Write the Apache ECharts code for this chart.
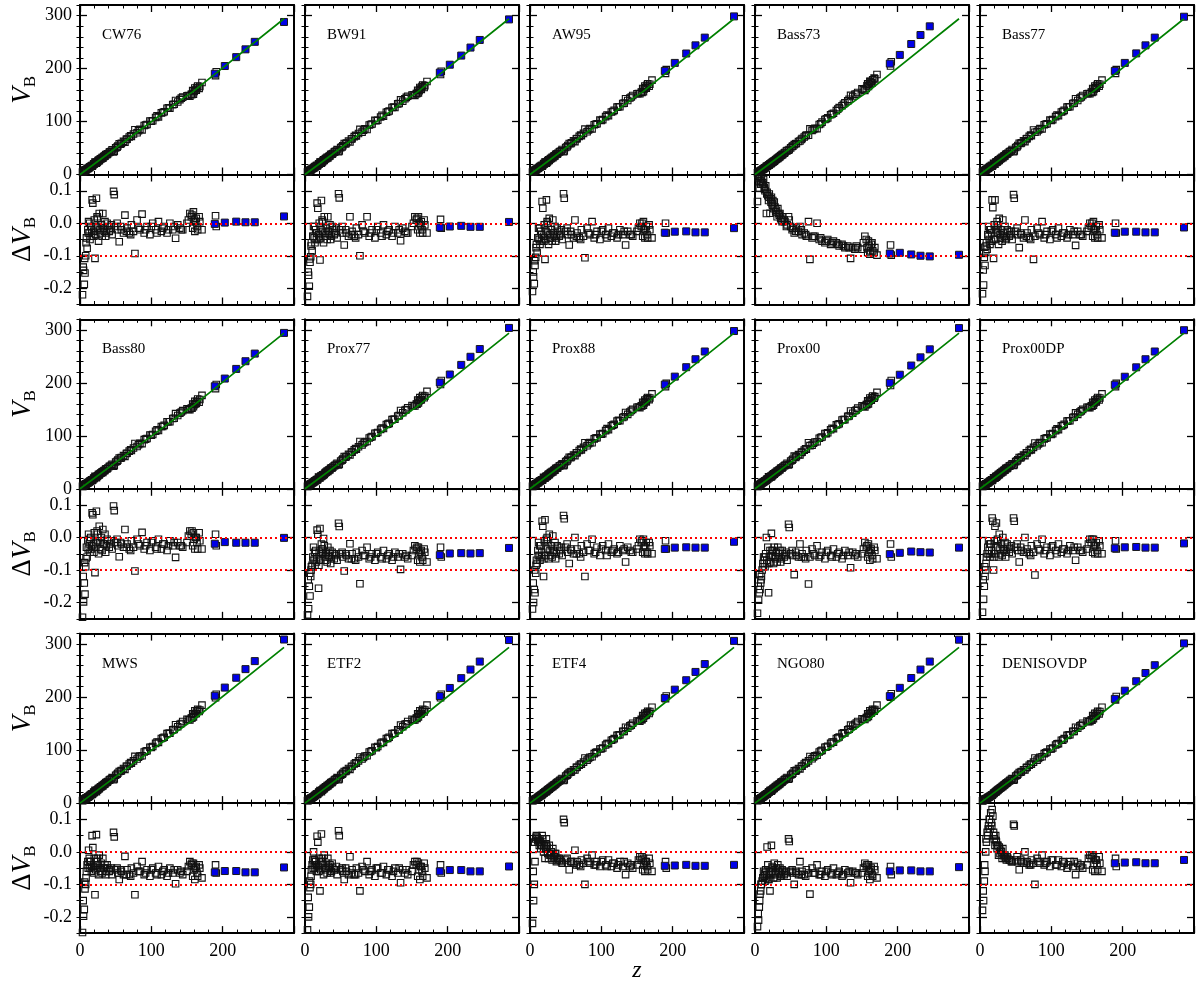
<!DOCTYPE html>
<html lang="en">
<head>
<meta charset="UTF-8">
<title>Barrier heights V_B vs z</title>
<script src="https://cdn.jsdelivr.net/npm/echarts@6/dist/echarts.min.js"></script>
<style>html,body{margin:0;padding:0;background:#fff;}</style>
</head>
<body>
<div id="main" style="width:1197px;height:985px;"></div>
<script>
// ---- data ----
var panelNames = ['CW76', 'BW91', 'AW95', 'Bass73', 'Bass77',
                  'Bass80', 'Prox77', 'Prox88', 'Prox00', 'Prox00DP',
                  'MWS', 'ETF2', 'ETF4', 'NGO80', 'DENISOVDP'];

// open squares: z and V_B (experimental) of each system
var zOpen = [3.5, 4.5, 5, 6, 6.5, 7, 8, 9, 10, 11,
             12, 13, 14, 15, 16, 17, 18, 19, 20, 21,
             22, 23, 24, 25, 26, 27, 28, 30, 31, 32,
             34, 35, 37, 39, 42, 45, 47, 48, 50, 52,
             55, 58, 61, 63, 66, 69, 72, 75, 77, 80,
             84, 87, 90, 94, 98, 102, 106, 110, 114, 118,
             122, 126, 130, 134, 137, 140, 144, 150, 154, 156,
             158, 159, 160, 161, 163, 165, 168, 171, 190, 191,
             8.5, 11.5, 13.5, 16.5, 19.5, 22.5, 24.5, 29, 33, 36,
             38, 41, 44, 53, 57, 65, 71, 82, 92, 100,
             108, 116, 124, 132, 142, 152, 157, 162, 164, 167];
var vOpen = [3.5, 4.5, 5, 6, 6.5, 7, 8, 9, 10, 10.9,
             11.9, 12.9, 13.9, 14.9, 15.9, 16.9, 17.9, 18.9, 19.9, 20.9,
             21.9, 22.9, 23.9, 24.9, 25.9, 26.9, 27.9, 29.9, 30.8, 31.8,
             33.8, 34.8, 36.8, 38.8, 41.8, 44.8, 46.8, 47.8, 49.8, 51.7,
             54.7, 57.7, 60.7, 62.7, 65.7, 68.7, 71.6, 74.6, 76.6, 79.6,
             83.6, 86.6, 89.6, 93.5, 97.5, 101.5, 105.4, 109.4, 113.4, 117.4,
             121.4, 125.3, 129.3, 133.3, 136.3, 139.3, 143.2, 148.7, 152.4, 154.2,
             156, 157.1, 158.2, 159.3, 161.5, 163.7, 167, 170.2, 191, 192.1,
             8.5, 11.4, 13.4, 16.4, 19.4, 22.4, 24.4, 28.9, 32.8, 35.8,
             37.8, 40.8, 43.8, 52.7, 56.7, 64.7, 70.6, 81.6, 91.5, 99.5,
             107.4, 115.4, 123.4, 131.3, 141.3, 150.6, 155.1, 160.4, 162.6, 165.9];
// filled squares (heavy systems)
var zFilled = [189, 203, 219, 232, 245, 286];
var vFilled = [189.9, 205.2, 222.7, 237, 251.2, 294];
// green reference curve
var lineZ = [0, 100, 147, 158, 286];
var lineV = [0, 99.5, 146, 156, 294];
// red dotted levels in the lower panels
var refLevels = [0, -0.1];

// Delta V_B per model, same order as zOpen
var dCW76 = [-0.22,-0.135,-0.145,-0.188,-0.108,-0.153,-0.1,-0.045,-0.077,-0.02,
  0.005,-0.03,-0.05,-0.01,-0.04,0.072,0.062,-0.025,0.01,-0.108,
  -0.035,0.077,0.02,-0.015,-0.055,0.03,-0.02,-0.005,-0.04,0.03,
  -0.025,0.005,-0.03,-0.01,-0.02,-0.035,0.098,0.088,-0.01,0.0,
  -0.057,-0.02,-0.03,0.025,-0.015,-0.03,-0.005,-0.025,-0.093,0.01,
  -0.02,0.028,-0.03,-0.01,-0.035,0.0,-0.02,0.005,-0.025,-0.01,
  -0.03,0.0,-0.02,-0.046,-0.005,-0.015,-0.02,0.0,0.03,0.02,
  -0.015,0.035,0.01,-0.025,0.015,-0.02,0.005,-0.02,0.023,-0.01,
  -0.06,-0.03,0.0,-0.02,-0.04,-0.01,0.015,-0.03,-0.015,-0.04,
  0.0,-0.025,-0.005,-0.02,-0.01,-0.025,-0.035,-0.015,-0.02,-0.01,
  -0.03,-0.015,-0.02,-0.01,-0.02,0.01,0.025,0.005,-0.01,0.02];
var dBW91 = [-0.225,-0.15,-0.16,-0.194,-0.11,-0.12,-0.103,-0.06,-0.085,-0.04,
  -0.01,-0.045,-0.06,-0.02,-0.05,0.062,0.046,-0.035,0.0,-0.113,
  -0.045,0.07,0.01,-0.025,-0.06,0.02,-0.03,-0.015,-0.05,0.02,
  -0.035,-0.005,-0.04,-0.02,-0.03,-0.045,0.091,0.078,-0.02,-0.01,
  -0.067,-0.03,-0.04,0.02,-0.025,-0.04,-0.015,-0.035,-0.1,-0.005,
  -0.03,0.02,-0.04,-0.02,-0.045,-0.01,-0.03,-0.005,-0.035,-0.02,
  -0.04,-0.01,-0.03,-0.054,-0.015,-0.025,-0.03,-0.01,0.02,0.01,
  -0.02,0.02,0.0,-0.03,0.005,-0.03,-0.005,-0.03,0.012,-0.015,
  -0.07,-0.04,-0.01,-0.03,-0.05,-0.02,0.005,-0.04,-0.025,-0.05,
  -0.01,-0.035,-0.015,-0.03,-0.02,-0.035,-0.045,-0.025,-0.03,-0.02,
  -0.04,-0.025,-0.03,-0.02,-0.03,0.0,0.015,-0.005,-0.02,0.01];
var dAW95 = [-0.21,-0.15,-0.165,-0.186,-0.115,-0.13,-0.105,-0.065,-0.09,-0.045,
  -0.015,-0.05,-0.065,-0.025,-0.055,0.067,0.046,-0.04,-0.005,-0.111,
  -0.05,0.072,0.005,-0.03,-0.065,0.015,-0.035,-0.02,-0.055,0.01,
  -0.04,-0.01,-0.045,-0.025,-0.035,-0.05,0.091,0.077,-0.025,-0.015,
  -0.067,-0.035,-0.045,0.01,-0.03,-0.045,-0.02,-0.04,-0.106,-0.015,
  -0.035,0.005,-0.045,-0.025,-0.05,-0.02,-0.035,-0.015,-0.04,-0.03,
  -0.045,-0.02,-0.035,-0.067,-0.025,-0.035,-0.04,-0.025,0.0,-0.01,
  -0.04,0.005,-0.02,-0.045,-0.01,-0.045,-0.02,-0.045,0.0,-0.03,
  -0.075,-0.045,-0.015,-0.035,-0.055,-0.025,0.0,-0.045,-0.03,-0.055,
  -0.015,-0.04,-0.02,-0.035,-0.025,-0.04,-0.05,-0.03,-0.035,-0.025,
  -0.045,-0.03,-0.035,-0.025,-0.035,-0.015,0.0,-0.02,-0.035,-0.005];
var dBass73 = [0.067,0.14,0.15,0.108,0.145,0.13,0.12,0.14,0.12,0.125,
  0.135,0.11,0.1,0.115,0.03,0.095,0.085,0.07,0.09,0.031,
  0.075,0.08,0.06,0.07,0.045,0.065,0.05,0.04,0.02,0.045,
  0.025,0.03,0.01,0.02,0.005,-0.005,0.02,0.01,-0.01,-0.02,
  -0.03,-0.015,-0.025,-0.01,-0.035,-0.03,-0.04,0.005,-0.111,-0.045,
  -0.04,0.0,-0.05,-0.055,-0.06,-0.05,-0.065,-0.055,-0.06,-0.07,
  -0.065,-0.075,-0.07,-0.108,-0.075,-0.08,-0.075,-0.08,-0.04,-0.05,
  -0.09,-0.055,-0.07,-0.095,-0.065,-0.085,-0.075,-0.098,-0.067,-0.098,
  0.13,0.12,0.105,0.09,0.08,0.065,0.055,0.035,0.03,0.015,
  0.005,0.01,-0.01,-0.015,-0.025,-0.02,-0.035,-0.04,-0.045,-0.055,
  -0.06,-0.065,-0.07,-0.075,-0.07,-0.06,-0.075,-0.085,-0.06,-0.09];
var dBass77 = [-0.217,-0.144,-0.19,-0.105,-0.074,-0.13,-0.09,-0.06,-0.08,-0.035,
  -0.01,-0.05,-0.065,-0.02,-0.055,0.072,0.048,-0.108,-0.005,0.072,
  -0.05,-0.03,0.005,-0.03,-0.065,0.015,-0.035,-0.02,-0.055,0.01,
  -0.04,-0.01,-0.045,-0.025,-0.035,-0.05,0.088,0.077,-0.025,-0.015,
  -0.075,-0.035,-0.045,0.01,-0.03,-0.045,-0.02,-0.111,-0.04,-0.015,
  -0.035,0.005,-0.045,-0.025,-0.05,-0.02,-0.035,-0.015,-0.04,-0.03,
  -0.045,-0.02,-0.035,-0.068,-0.025,-0.035,-0.04,-0.025,0.0,-0.01,
  -0.04,0.005,-0.02,-0.045,-0.01,-0.045,-0.02,-0.045,0.0,-0.03,
  -0.07,-0.04,-0.02,-0.03,-0.05,-0.02,-0.005,-0.045,-0.03,-0.05,
  -0.02,-0.04,-0.025,-0.035,-0.03,-0.04,-0.05,-0.03,-0.035,-0.025,
  -0.045,-0.03,-0.035,-0.025,-0.035,-0.015,0.0,-0.02,-0.035,-0.005];
var dBass80 = [-0.245,-0.12,-0.198,-0.14,-0.077,-0.174,-0.09,-0.03,-0.06,-0.01,
  0.01,-0.02,-0.045,0.0,-0.035,0.076,0.07,-0.02,0.015,-0.108,
  -0.03,0.081,0.02,-0.01,-0.05,0.035,-0.015,0.0,-0.04,0.025,
  -0.02,0.01,-0.025,-0.01,-0.02,-0.035,0.097,0.083,-0.015,-0.005,
  -0.059,-0.02,-0.03,0.025,-0.02,-0.035,-0.01,-0.03,-0.103,-0.005,
  -0.025,0.016,-0.035,-0.015,-0.04,-0.01,-0.03,-0.005,-0.035,-0.02,
  -0.04,-0.01,-0.025,-0.061,-0.015,-0.025,-0.03,-0.015,0.02,0.01,
  -0.025,0.015,-0.005,-0.035,0.0,-0.035,-0.01,-0.035,0.01,-0.025,
  -0.065,-0.035,-0.005,-0.025,-0.045,-0.015,0.01,-0.035,-0.02,-0.045,
  -0.005,-0.03,-0.01,-0.025,-0.015,-0.03,-0.04,-0.02,-0.025,-0.015,
  -0.035,-0.02,-0.025,-0.015,-0.025,0.005,0.02,0.0,-0.015,0.015];
var dProx77 = [-0.238,-0.13,-0.219,-0.15,-0.11,-0.18,-0.12,-0.09,-0.085,-0.06,
  -0.03,-0.07,-0.085,-0.04,-0.075,0.023,0.01,-0.156,-0.045,0.028,
  -0.07,-0.02,-0.035,-0.05,-0.003,-0.025,-0.06,-0.045,-0.075,-0.03,
  -0.06,-0.04,-0.065,-0.05,-0.055,-0.07,0.044,0.034,-0.05,-0.045,
  -0.103,-0.055,-0.065,-0.019,-0.05,-0.065,-0.045,-0.06,-0.142,-0.04,
  -0.055,-0.03,-0.065,-0.05,-0.07,-0.045,-0.06,-0.04,-0.065,-0.05,
  -0.07,-0.045,-0.06,-0.098,-0.05,-0.06,-0.065,-0.055,-0.025,-0.035,
  -0.07,-0.03,-0.05,-0.075,-0.04,-0.07,-0.045,-0.075,-0.03,-0.06,
  -0.1,-0.07,-0.045,-0.06,-0.085,-0.05,-0.035,-0.07,-0.055,-0.08,
  -0.045,-0.065,-0.05,-0.06,-0.05,-0.065,-0.07,-0.055,-0.06,-0.05,
  -0.065,-0.055,-0.06,-0.05,-0.055,-0.04,-0.03,-0.045,-0.06,-0.035];
var dProx88 = [-0.22,-0.14,-0.2,-0.16,-0.1,-0.17,-0.11,-0.07,-0.08,-0.04,
  -0.015,-0.055,-0.07,-0.025,-0.06,0.05,0.035,-0.12,-0.01,0.055,
  -0.055,-0.005,0.0,-0.035,-0.065,0.01,-0.04,-0.025,-0.06,0.005,
  -0.045,-0.015,-0.05,-0.03,-0.04,-0.055,0.068,0.058,-0.03,-0.02,
  -0.08,-0.04,-0.05,0.0,-0.035,-0.05,-0.025,-0.045,-0.12,-0.02,
  -0.04,-0.005,-0.05,-0.03,-0.055,-0.025,-0.04,-0.02,-0.045,-0.035,
  -0.05,-0.025,-0.04,-0.075,-0.03,-0.04,-0.045,-0.035,-0.005,-0.015,
  -0.045,-0.005,-0.025,-0.05,-0.015,-0.05,-0.025,-0.05,-0.01,-0.035,
  -0.085,-0.055,-0.025,-0.045,-0.065,-0.035,-0.01,-0.055,-0.04,-0.065,
  -0.025,-0.05,-0.03,-0.045,-0.035,-0.05,-0.06,-0.04,-0.045,-0.035,
  -0.055,-0.04,-0.045,-0.035,-0.045,-0.025,-0.01,-0.03,-0.045,-0.015];
var dProx00 = [-0.233,-0.15,-0.193,-0.17,-0.114,-0.16,-0.14,-0.12,-0.1,-0.08,
  -0.06,-0.07,-0.09,-0.05,0.0,-0.08,-0.03,-0.17,-0.06,-0.04,
  -0.075,0.013,-0.04,-0.055,-0.08,-0.03,-0.06,-0.045,-0.075,-0.03,
  -0.06,-0.04,-0.065,-0.05,-0.055,-0.07,0.041,0.031,-0.05,-0.04,
  -0.114,-0.055,-0.06,-0.02,-0.05,-0.06,-0.04,-0.143,-0.06,-0.035,
  -0.055,-0.025,-0.06,-0.045,-0.065,-0.04,-0.055,-0.035,-0.06,-0.045,
  -0.065,-0.04,-0.055,-0.093,-0.045,-0.055,-0.06,-0.05,-0.015,-0.03,
  -0.06,-0.02,-0.045,-0.07,-0.035,-0.065,-0.04,-0.065,-0.02,-0.06,
  -0.13,-0.09,-0.06,-0.07,-0.08,-0.055,-0.04,-0.065,-0.05,-0.075,
  -0.04,-0.06,-0.045,-0.055,-0.045,-0.06,-0.065,-0.05,-0.055,-0.045,
  -0.06,-0.05,-0.055,-0.045,-0.05,-0.035,-0.025,-0.04,-0.055,-0.03];
var dProx00DP = [-0.23,-0.13,-0.19,-0.15,-0.09,-0.12,-0.1,-0.06,-0.05,-0.03,
  -0.01,-0.04,-0.06,-0.02,-0.05,0.06,0.05,-0.1,-0.01,0.035,
  -0.05,0.045,-0.01,-0.03,-0.06,0.01,-0.035,-0.02,-0.055,0.0,
  -0.04,-0.015,-0.045,-0.03,-0.035,-0.05,0.06,0.05,-0.03,-0.02,
  -0.075,-0.04,-0.045,0.0,-0.035,-0.05,-0.025,-0.045,-0.115,-0.02,
  -0.04,-0.005,-0.05,-0.03,-0.055,-0.025,-0.04,-0.02,-0.045,-0.035,
  -0.05,-0.025,-0.04,-0.07,-0.03,-0.04,-0.045,-0.035,-0.005,-0.015,
  -0.045,-0.005,-0.025,-0.05,-0.015,-0.05,-0.025,-0.05,-0.01,-0.035,
  -0.08,-0.05,-0.02,-0.04,-0.06,-0.03,-0.005,-0.05,-0.035,-0.06,
  -0.02,-0.045,-0.025,-0.04,-0.03,-0.045,-0.055,-0.035,-0.04,-0.03,
  -0.05,-0.035,-0.04,-0.03,-0.04,-0.02,-0.005,-0.025,-0.04,-0.01];
var dMWS = [-0.248,-0.15,-0.198,-0.177,-0.093,-0.114,-0.1,-0.06,-0.04,-0.03,
  0.005,-0.02,-0.05,-0.03,-0.06,0.05,0.013,-0.045,-0.02,-0.132,
  -0.055,0.053,-0.03,-0.04,-0.07,-0.01,-0.05,-0.035,-0.065,-0.02,
  -0.05,-0.04,-0.06,-0.05,-0.055,-0.07,0.06,0.046,-0.055,-0.05,
  -0.085,-0.06,-0.07,-0.014,-0.055,-0.07,-0.05,-0.065,-0.132,-0.045,
  -0.06,-0.03,-0.07,-0.055,-0.075,-0.05,-0.065,-0.045,-0.07,-0.055,
  -0.075,-0.05,-0.065,-0.098,-0.055,-0.065,-0.07,-0.06,-0.03,-0.04,
  -0.075,-0.035,-0.055,-0.085,-0.045,-0.075,-0.05,-0.08,-0.04,-0.065,
  -0.08,-0.05,-0.03,-0.045,-0.065,-0.04,-0.02,-0.06,-0.05,-0.07,
  -0.04,-0.06,-0.05,-0.065,-0.055,-0.07,-0.075,-0.06,-0.065,-0.055,
  -0.07,-0.06,-0.065,-0.055,-0.06,-0.045,-0.035,-0.05,-0.065,-0.04];
var dETF2 = [-0.24,-0.14,-0.2,-0.17,-0.09,-0.11,-0.1,-0.055,-0.04,-0.025,
  0.0,-0.025,-0.05,-0.03,-0.06,0.048,0.03,-0.045,-0.02,-0.12,
  -0.055,0.055,-0.03,-0.04,-0.07,-0.01,-0.05,-0.035,-0.065,-0.02,
  -0.05,-0.04,-0.06,-0.05,-0.055,-0.07,0.065,0.05,-0.055,-0.05,
  -0.085,-0.06,-0.07,-0.015,-0.055,-0.07,-0.05,-0.065,-0.12,-0.045,
  -0.06,-0.03,-0.07,-0.055,-0.075,-0.05,-0.065,-0.045,-0.07,-0.055,
  -0.075,-0.05,-0.065,-0.095,-0.055,-0.065,-0.07,-0.06,-0.03,-0.04,
  -0.075,-0.035,-0.055,-0.085,-0.045,-0.075,-0.05,-0.08,-0.04,-0.065,
  -0.075,-0.05,-0.025,-0.04,-0.06,-0.035,-0.02,-0.055,-0.045,-0.065,
  -0.035,-0.055,-0.045,-0.06,-0.05,-0.065,-0.07,-0.055,-0.06,-0.05,
  -0.065,-0.055,-0.06,-0.05,-0.055,-0.04,-0.03,-0.045,-0.06,-0.035];
var dETF4 = [-0.22,-0.06,-0.15,-0.1,0.03,-0.03,0.04,0.05,0.045,0.035,
  0.04,0.02,0.03,0.01,0.025,0.05,0.04,0.0,0.02,-0.02,
  0.01,0.04,0.015,-0.005,-0.02,0.02,-0.01,0.0,-0.025,0.01,
  -0.015,-0.005,-0.03,-0.02,-0.025,-0.035,0.1,0.09,-0.025,-0.02,
  -0.055,-0.03,-0.035,0.005,-0.03,-0.04,-0.025,-0.035,-0.1,-0.02,
  -0.035,-0.01,-0.04,-0.03,-0.045,-0.025,-0.04,-0.025,-0.045,-0.035,
  -0.05,-0.03,-0.045,-0.07,-0.035,-0.045,-0.05,-0.04,-0.015,-0.025,
  -0.055,-0.02,-0.04,-0.06,-0.03,-0.055,-0.035,-0.06,-0.03,-0.05,
  0.045,0.03,0.035,0.02,0.01,0.025,0.0,-0.01,-0.02,-0.005,
  -0.025,-0.02,-0.03,-0.035,-0.03,-0.04,-0.045,-0.03,-0.04,-0.03,
  -0.045,-0.035,-0.04,-0.03,-0.04,-0.025,-0.015,-0.03,-0.045,-0.02];
var dNGO80 = [-0.23,-0.19,-0.21,-0.17,-0.15,-0.13,-0.12,-0.1,-0.09,-0.08,
  -0.06,-0.075,-0.09,-0.055,-0.08,0.015,-0.04,-0.085,-0.06,-0.12,
  -0.07,0.02,-0.045,-0.06,-0.08,-0.035,-0.065,-0.05,-0.08,-0.04,
  -0.065,-0.05,-0.07,-0.06,-0.065,-0.075,0.04,0.032,-0.06,-0.055,
  -0.1,-0.065,-0.07,-0.03,-0.06,-0.07,-0.055,-0.065,-0.13,-0.05,
  -0.065,-0.04,-0.07,-0.06,-0.075,-0.055,-0.065,-0.05,-0.07,-0.06,
  -0.075,-0.055,-0.065,-0.095,-0.06,-0.065,-0.07,-0.065,-0.035,-0.045,
  -0.075,-0.04,-0.06,-0.085,-0.05,-0.075,-0.055,-0.08,-0.045,-0.07,
  -0.1,-0.08,-0.065,-0.07,-0.085,-0.06,-0.05,-0.07,-0.06,-0.075,
  -0.055,-0.07,-0.06,-0.065,-0.06,-0.07,-0.075,-0.065,-0.07,-0.06,
  -0.07,-0.065,-0.07,-0.06,-0.065,-0.05,-0.04,-0.055,-0.07,-0.045];
var dDENISOVDP = [-0.18,-0.12,-0.15,-0.09,-0.04,-0.06,0.0,0.03,0.06,0.05,
  0.08,0.1,0.07,0.12,0.09,0.13,0.11,0.06,0.04,0.02,
  0.05,0.03,0.01,0.02,-0.01,0.015,-0.005,0.0,-0.02,0.01,
  -0.015,-0.01,-0.025,-0.02,-0.025,-0.03,0.085,0.08,-0.025,-0.015,
  -0.055,-0.03,-0.035,0.0,-0.03,-0.04,-0.025,-0.035,-0.1,-0.02,
  -0.035,-0.01,-0.04,-0.03,-0.045,-0.025,-0.04,-0.025,-0.045,-0.035,
  -0.05,-0.03,-0.045,-0.07,-0.035,-0.045,-0.05,-0.04,-0.01,-0.02,
  -0.055,-0.015,-0.035,-0.06,-0.025,-0.055,-0.035,-0.06,-0.02,-0.045,
  0.04,0.07,0.1,0.08,0.05,0.035,0.02,0.005,-0.01,-0.02,
  -0.015,-0.025,-0.03,-0.03,-0.025,-0.035,-0.04,-0.03,-0.035,-0.025,
  -0.04,-0.03,-0.04,-0.03,-0.04,-0.02,-0.01,-0.025,-0.04,-0.015];

// Delta V_B of the filled squares, same order as zFilled
var bCW76 = [-0.002, 0.002, 0.005, 0.003, 0.003, 0.021];
var bBW91 = [-0.013, -0.010, -0.008, -0.011, -0.011, 0.004];
var bAW95 = [-0.029, -0.026, -0.025, -0.028, -0.028, -0.015];
var bBass73 = [-0.093, -0.091, -0.096, -0.100, -0.102, -0.097];
var bBass77 = [-0.029, -0.026, -0.026, -0.028, -0.028, -0.013];
var bBass80 = [-0.019, -0.014, -0.016, -0.016, -0.016, -0.001];
var bProx77 = [-0.054, -0.049, -0.048, -0.049, -0.048, -0.032];
var bProx88 = [-0.035, -0.031, -0.030, -0.031, -0.031, -0.013];
var bProx00 = [-0.051, -0.047, -0.043, -0.045, -0.046, -0.031];
var bProx00DP = [-0.033, -0.030, -0.029, -0.031, -0.031, -0.018];
var bMWS = [-0.063, -0.059, -0.059, -0.063, -0.063, -0.048];
var bETF2 = [-0.060, -0.056, -0.056, -0.060, -0.060, -0.045];
var bETF4 = [-0.043, -0.042, -0.040, -0.043, -0.043, -0.040];
var bNGO80 = [-0.060, -0.057, -0.057, -0.060, -0.060, -0.047];
var bDENISOVDP = [-0.035, -0.033, -0.032, -0.035, -0.035, -0.025];

var panelOpen = [dCW76, dBW91, dAW95, dBass73, dBass77, dBass80, dProx77, dProx88,
                 dProx00, dProx00DP, dMWS, dETF2, dETF4, dNGO80, dDENISOVDP];
var panelFilled = [bCW76, bBW91, bAW95, bBass73, bBass77, bBass80, bProx77, bProx88,
                   bProx00, bProx00DP, bMWS, bETF2, bETF4, bNGO80, bDENISOVDP];

// ---- layout ----
var FONT = 'Liberation Serif';
var colX = [80, 305, 530, 755, 980], panelW = 214;
var rowY = [5, 319.3, 633.6], topH = 169.5, botH = 130;

var grids = [], xAxes = [], yAxes = [], series = [], graphics = [];

var tickStyle = {color: '#000', width: 1.3};
var richName = {
    v: {fontSize: 27, fontStyle: 'italic', fontFamily: FONT, color: '#000', verticalAlign: 'top', padding: [0, 0, 3, 0]},
    d: {fontSize: 27, fontFamily: FONT, color: '#000', verticalAlign: 'top', padding: [0, 0, 3, 0]},
    b: {fontSize: 17, fontFamily: FONT, color: '#000', verticalAlign: 'bottom'}
};

function addX(g, labels) {
    var idx = xAxes.length;
    ['bottom', 'top'].forEach(function (pos, k) {
        xAxes.push({
            type: 'value', gridIndex: g, position: pos, min: 0, max: 300, interval: 100,
            axisLine: {show: true, onZero: false, lineStyle: {color: '#000', width: 2}},
            axisTick: {show: true, inside: true, length: 7, lineStyle: tickStyle},
            minorTick: {show: true, splitNumber: 5, length: 3.5, lineStyle: {color: '#000', width: 1}},
            splitLine: {show: false},
            axisLabel: {
                show: labels && k === 0, margin: 9, color: '#000', fontFamily: FONT, fontSize: 18,
                showMinLabel: true, showMaxLabel: true,
                formatter: function (v) { return v === 300 ? '' : String(v); }
            }
        });
    });
    return idx;
}

function addY(g, min, max, majors, minorStep, labels, name, fmt) {
    var idx = yAxes.length;
    ['left', 'right'].forEach(function (pos, k) {
        yAxes.push({
            type: 'value', gridIndex: g, position: pos, min: min, max: max,
            axisLine: {show: true, onZero: false, lineStyle: {color: '#000', width: 2}},
            axisTick: {show: true, inside: true, length: 7, customValues: majors, lineStyle: tickStyle},
            splitLine: {show: false},
            axisLabel: {
                show: labels && k === 0, customValues: majors, margin: 8,
                color: '#000', fontFamily: FONT, fontSize: 18, formatter: fmt
            },
            name: (labels && k === 0) ? name : '',
            nameLocation: 'middle', nameRotate: 90, nameGap: 41,
            nameTextStyle: {rich: richName}
        });
        yAxes.push({
            type: 'value', gridIndex: g, position: pos, min: min, max: max, interval: minorStep,
            axisLine: {show: false},
            axisTick: {show: true, inside: true, length: 3.5, lineStyle: {color: '#000', width: 1}},
            axisLabel: {show: false}, splitLine: {show: false}
        });
    });
    return idx;
}

var openStyle = {color: 'rgba(0,0,0,0)', borderColor: '#111', borderWidth: 1.1, opacity: 1};
var filledStyle = {color: '#0000e8', borderColor: '#1a1a1a', borderWidth: 1, opacity: 1};

panelNames.forEach(function (nm, p) {
    var r = Math.floor(p / 5), c = p % 5;
    var dOpen = panelOpen[p], dFill = panelFilled[p];
    var gT = grids.length;
    grids.push({left: colX[c], top: rowY[r], width: panelW, height: topH});
    var gB = grids.length;
    grids.push({left: colX[c], top: rowY[r] + topH, width: panelW, height: botH});

    // upper panel: V_B
    var xT = addX(gT, false);
    var yT = addY(gT, 0, 320, [0, 100, 200, 300], 20, c === 0, '{v|V}{b|B}',
        function (v) { return String(v); });
    series.push({
        type: 'line', xAxisIndex: xT, yAxisIndex: yT, showSymbol: false, silent: true,
        lineStyle: {color: '#008000', width: 1.7},
        data: lineZ.map(function (z, i) { return [z, lineV[i]]; })
    });
    series.push({
        type: 'scatter', xAxisIndex: xT, yAxisIndex: yT, symbol: 'rect', symbolSize: 6.5,
        itemStyle: openStyle, silent: true, clip: true,
        data: zOpen.map(function (z, i) { return [z, vOpen[i] / (1 + dOpen[i])]; })
    });
    series.push({
        type: 'scatter', xAxisIndex: xT, yAxisIndex: yT, symbol: 'rect', symbolSize: 7,
        itemStyle: filledStyle, silent: true, clip: true,
        data: zFilled.map(function (z, i) { return [z, vFilled[i] / (1 + dFill[i])]; })
    });

    // lower panel: Delta V_B
    var xB = addX(gB, r === 2);
    var yB = addY(gB, -0.25, 0.15, [-0.2, -0.1, 0, 0.1], 0.05, c === 0, '{d|Δ}{v|V}{b|B}',
        function (v) { return v.toFixed(1); });
    series.push({
        type: 'scatter', xAxisIndex: xB, yAxisIndex: yB, symbol: 'rect', symbolSize: 6.5,
        itemStyle: openStyle, silent: true, clip: true,
        data: zOpen.map(function (z, i) { return [z, dOpen[i]]; }),
        markLine: {
            silent: true, symbol: 'none', label: {show: false},
            lineStyle: {color: '#ff0000', type: [2, 3], width: 2, opacity: 1},
            data: refLevels.map(function (v) { return {yAxis: v}; })
        }
    });
    series.push({
        type: 'scatter', xAxisIndex: xB, yAxisIndex: yB, symbol: 'rect', symbolSize: 7,
        itemStyle: filledStyle, silent: true, clip: true,
        data: zFilled.map(function (z, i) { return [z, dFill[i]]; })
    });

    graphics.push({
        type: 'text', x: colX[c] + 22, y: rowY[r] + 30,
        style: {text: nm, fontSize: 15, fontFamily: FONT, fill: '#000', verticalAlign: 'middle'}
    });
});

graphics.push({
    type: 'text', x: 637, y: 971,
    style: {text: 'z', fontSize: 24, fontStyle: 'italic', fontFamily: FONT, fill: '#000',
            align: 'center', verticalAlign: 'middle'}
});

var chart = echarts.init(document.getElementById('main'));
chart.setOption({
    animation: false,
    backgroundColor: '#fff',
    grid: grids,
    xAxis: xAxes,
    yAxis: yAxes,
    series: series,
    graphic: graphics
});
</script>
</body>
</html>
